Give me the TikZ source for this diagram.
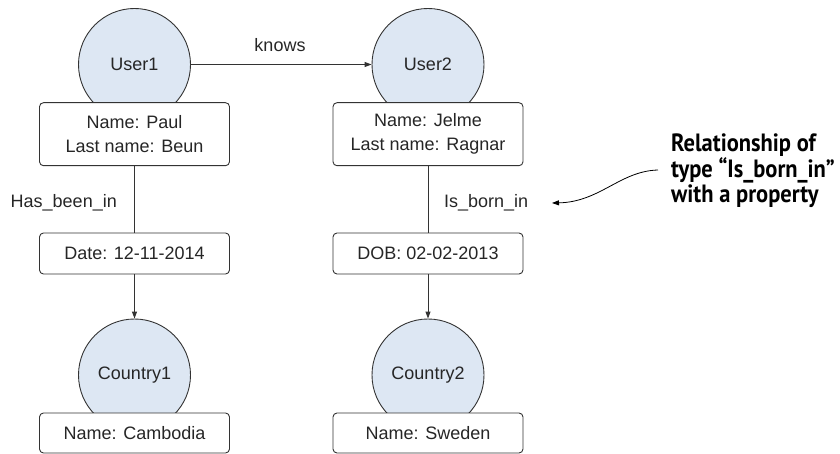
\documentclass[tikz,border=0pt]{standalone}
\usepackage{fontspec}
\setmainfont{Liberation Sans}
\newfontfamily\notefont[FakeStretch=0.9]{PT Sans}
\usetikzlibrary{arrows.meta}
\definecolor{nodefill}{RGB}{221,231,243}
\definecolor{edge}{RGB}{51,51,51}
\begin{document}
\begin{tikzpicture}[x=1pt,y=-1pt,
  lbl/.style={font=\fontsize{18}{24}\selectfont, text=black!85, inner sep=0pt},
  entity/.style={circle, draw=edge, line width=0.9pt, fill=nodefill, minimum size=112pt, inner sep=0pt, font=\fontsize{18}{24}\selectfont, text=black!85},
  propbox/.style={draw=edge, line width=0.9pt, fill=white, rounded corners=4pt, minimum width=190pt, inner sep=0pt, align=center, font=\fontsize{18}{24}\selectfont, text=black!85},
  rel/.style={draw=edge, line width=0.9pt},
  arr/.style={rel, -{Triangle[length=7pt,width=5pt]}},
  note/.style={font=\notefont\bfseries\fontsize{25}{25}\selectfont, anchor=base west, inner sep=0pt, text=black}
]
\useasboundingbox (0,0) rectangle (840,454);

% entities
\node[entity] (u1) at (134.5,64.5) {\raisebox{-2pt}{User1}};
\node[entity] (u2) at (428,64.5) {\raisebox{-2pt}{User2}};
\node[entity] (c1) at (134.5,375) {\raisebox{-2pt}{Country1}};
\node[entity] (c2) at (428,375) {\raisebox{-2pt}{Country2}};

% property boxes
\node[propbox, minimum height=63pt] (p1) at (134.5,134.2) {Name: Paul\\Last name: Beun};
\node[propbox, minimum height=63pt] (p2) at (428,134.2) {Name: Jelme\\Last name: Ragnar};
\node[propbox, minimum height=41pt] (d1) at (134.5,253.5) {Date: 12-11-2014};
\node[propbox, minimum height=41pt] (d2) at (428,253.5) {DOB: 02-02-2013};
\node[propbox, minimum height=40pt] (n1) at (134.5,433) {Name: Cambodia};
\node[propbox, minimum height=40pt] (n2) at (428,433) {Name: Sweden};

% relationships
\draw[arr] (u1.east) -- (u2.west);
\node[lbl] (knows) at (280,45) {knows};
\draw[rel] (p1.south) -- (d1.north);
\draw[rel] (p2.south) -- (d2.north);
\draw[arr] (d1.south) -- (c1.north);
\draw[arr] (d2.south) -- (c2.north);
\node[lbl, anchor=east] (hb) at (117,203) {Has\_been\_in};
\node[lbl, anchor=west] (ib) at (444,203) {Is\_born\_in};

% annotation
\node[note] (anno1) at (671,152) {Relationship of};
\node[note] (anno2) at (671,177.5) {type “Is\_born\_in”};
\node[note] (anno3) at (671,203) {with a property};
\coordinate (cs) at (658,170);
\coordinate (ce) at (552,203);
\draw[line width=0.8pt, -{Triangle[length=7pt,width=5pt]}] (cs) .. controls (620,171) and (600,202) .. (ce);
\end{tikzpicture}
\end{document}
